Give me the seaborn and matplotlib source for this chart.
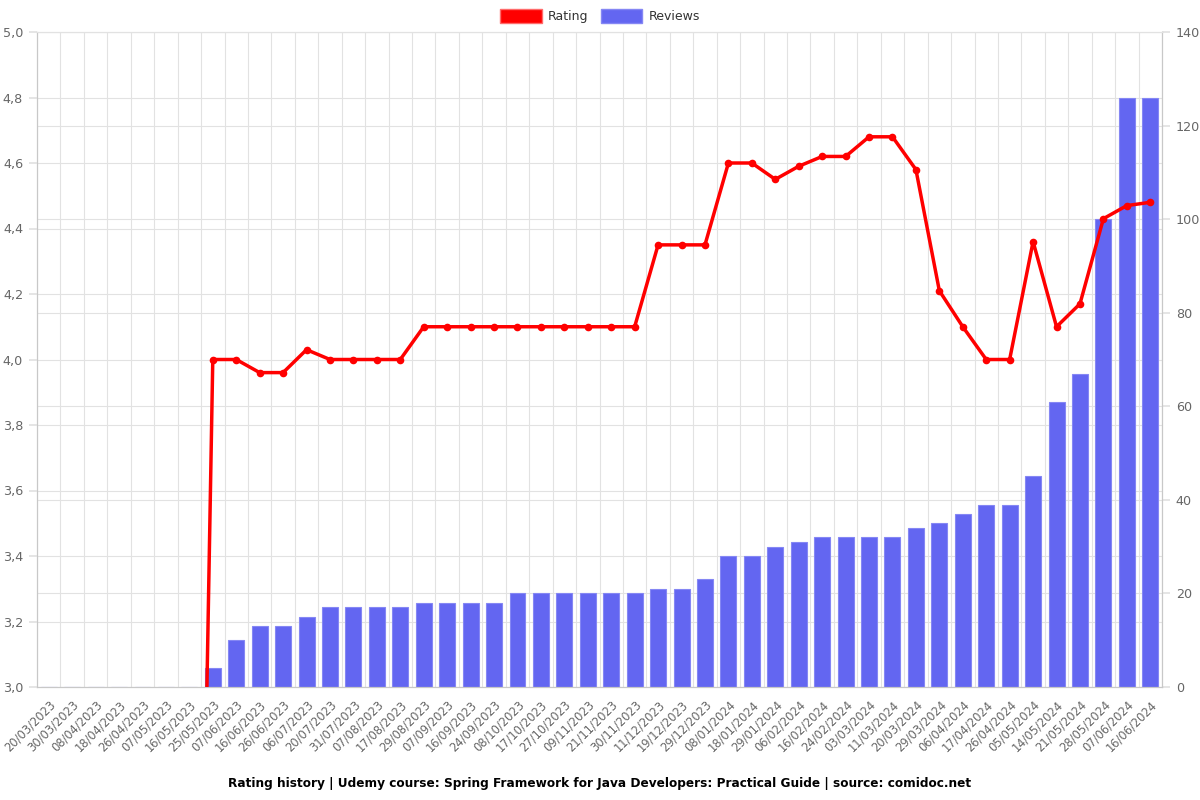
import numpy as np
import pandas as pd
import matplotlib
matplotlib.use("Agg")
import matplotlib.pyplot as plt
from matplotlib.patches import Patch
from matplotlib.ticker import FuncFormatter, FixedLocator, MultipleLocator
import seaborn as sns

dates = ["20/03/2023", "30/03/2023", "08/04/2023", "18/04/2023", "26/04/2023", "07/05/2023",
         "16/05/2023", "25/05/2023", "07/06/2023", "16/06/2023", "26/06/2023", "06/07/2023",
         "20/07/2023", "31/07/2023", "07/08/2023", "17/08/2023", "29/08/2023", "07/09/2023",
         "16/09/2023", "24/09/2023", "08/10/2023", "17/10/2023", "27/10/2023", "09/11/2023",
         "21/11/2023", "30/11/2023", "11/12/2023", "19/12/2023", "29/12/2023", "08/01/2024",
         "18/01/2024", "29/01/2024", "06/02/2024", "16/02/2024", "24/02/2024", "03/03/2024",
         "11/03/2024", "20/03/2024", "29/03/2024", "06/04/2024", "17/04/2024", "26/04/2024",
         "05/05/2024", "14/05/2024", "21/05/2024", "28/05/2024", "07/06/2024", "16/06/2024"]

ratings = [0, 0, 0, 0, 0, 0, 0,
           4.0, 4.0, 3.96, 3.96, 4.03, 4.0, 4.0, 4.0, 4.0,
           4.1, 4.1, 4.1, 4.1, 4.1, 4.1, 4.1, 4.1, 4.1, 4.1,
           4.35, 4.35, 4.35, 4.6, 4.6, 4.55, 4.59, 4.62, 4.62, 4.68, 4.68,
           4.58, 4.21, 4.1, 4.0, 4.0, 4.36, 4.1, 4.17, 4.43, 4.47, 4.48]

reviews = [0, 0, 0, 0, 0, 0, 0,
           4, 10, 13, 13, 15, 17, 17, 17, 17,
           18, 18, 18, 18, 20, 20, 20, 20, 20, 20,
           21, 21, 23, 28, 28, 30, 31, 32, 32, 32, 32,
           34, 35, 37, 39, 39, 45, 61, 67, 100, 126, 126]

title = "Rating history | Udemy course: Spring Framework for Java Developers: Practical Guide | source: comidoc.net"

RED = "#FF0000"
BLUE = "#6366F1"
GRID = "#e2e2e2"
TXT = "#666666"

sns.set_theme(style="white")
plt.rcParams['font.family'] = ['DejaVu Sans']

n = len(dates)
df = pd.DataFrame({"date": dates, "pos": np.arange(n), "rating": ratings, "reviews": reviews})

fig = plt.figure(figsize=(12, 8), dpi=100)
ax = fig.add_axes([37 / 1200, 1 - 687 / 800, (1162 - 37) / 1200, (687 - 32) / 800])

# bars on primary axes (right scale)
sns.barplot(data=df, x="pos", y="reviews", ax=ax, color=BLUE, saturation=1,
            width=0.68, edgecolor="#8587f4", linewidth=0.8, native_scale=True, zorder=2)
ax.set_xlim(-0.5, n - 0.5)
ax.set_ylim(0, 140)
ax.set_ylabel("")
ax.set_xlabel("")

ax2 = ax.twinx()
sns.lineplot(data=df, x="pos", y="rating", ax=ax2, color=RED, linewidth=2.5,
             marker="o", markersize=5.5, markeredgewidth=0, zorder=5)
ax2.set_ylim(3.0, 5.0)
ax2.set_xlim(-0.5, n - 0.5)
ax2.set_ylabel("")
ax2.set_xlabel("")

# swap sides: bars' scale on the right, rating scale on the left
ax.yaxis.tick_right()
ax.yaxis.set_label_position("right")
ax2.yaxis.tick_left()
ax2.yaxis.set_label_position("left")
ax.set_yticks(np.arange(0, 141, 20))
ax2.set_yticks(np.arange(3.0, 5.01, 0.2))
ax2.yaxis.set_major_formatter(FuncFormatter(lambda v, p: f"{v:.1f}".replace(".", ",")))

# grids (all drawn on the bar axes so they stay behind the bars)
ax.set_axisbelow(True)
ax.yaxis.grid(True, which="major", color=GRID, linewidth=0.8, zorder=0)
# rating gridlines (every 0.2 on the 3-5 scale == every 14 on the 0-140 scale)
ax.yaxis.set_minor_locator(MultipleLocator(14))
ax.yaxis.grid(True, which="minor", color=GRID, linewidth=0.8, zorder=0)
ax.tick_params(axis="y", which="minor", length=0)
ax.set_xticks(np.arange(n))
ax.set_xticklabels(dates, rotation=45, ha="right", rotation_mode="anchor")
ax.xaxis.set_minor_locator(FixedLocator(np.arange(-0.5, n, 1.0)))
ax.xaxis.grid(True, which="minor", color=GRID, linewidth=0.8, zorder=0)
ax.xaxis.grid(False, which="major")
ax.tick_params(axis="x", which="major", length=0, labelsize=8.3, labelcolor=TXT, pad=8)
ax.tick_params(axis="x", which="minor", length=6, color=GRID, width=0.8)
ax.tick_params(axis="y", which="major", length=6, color=GRID, labelsize=9.2, labelcolor=TXT, pad=4)
ax2.tick_params(axis="y", which="major", length=6, color=GRID, labelsize=9.2, labelcolor=TXT, pad=4)
ax2.grid(False)

for a in (ax, ax2):
    a.spines["top"].set_color(GRID)
    a.spines["left"].set_color("#c8c8c8")
    a.spines["right"].set_color("#c8c8c8")
    a.spines["bottom"].set_color("#c8c8c8")
    for s in a.spines.values():
        s.set_linewidth(0.8)

ax2.patch.set_visible(False)

handles = [Patch(facecolor=RED, edgecolor="#ff6b6b", label="Rating"),
           Patch(facecolor=BLUE, edgecolor="#8587f4", label="Reviews")]
leg = fig.legend(handles=handles, loc="center", bbox_to_anchor=(0.5, 1 - 16 / 800), ncol=2,
                 frameon=False, fontsize=9, handlelength=3.3, handleheight=1.3,
                 handletextpad=0.5, columnspacing=1.0)
for t in leg.get_texts():
    t.set_color("#333333")

fig.text(0.5, 1 - 783 / 800, title, ha="center", va="center", fontsize=8.7,
         fontweight="bold", color="black")

fig.savefig("out.png", dpi=100)
